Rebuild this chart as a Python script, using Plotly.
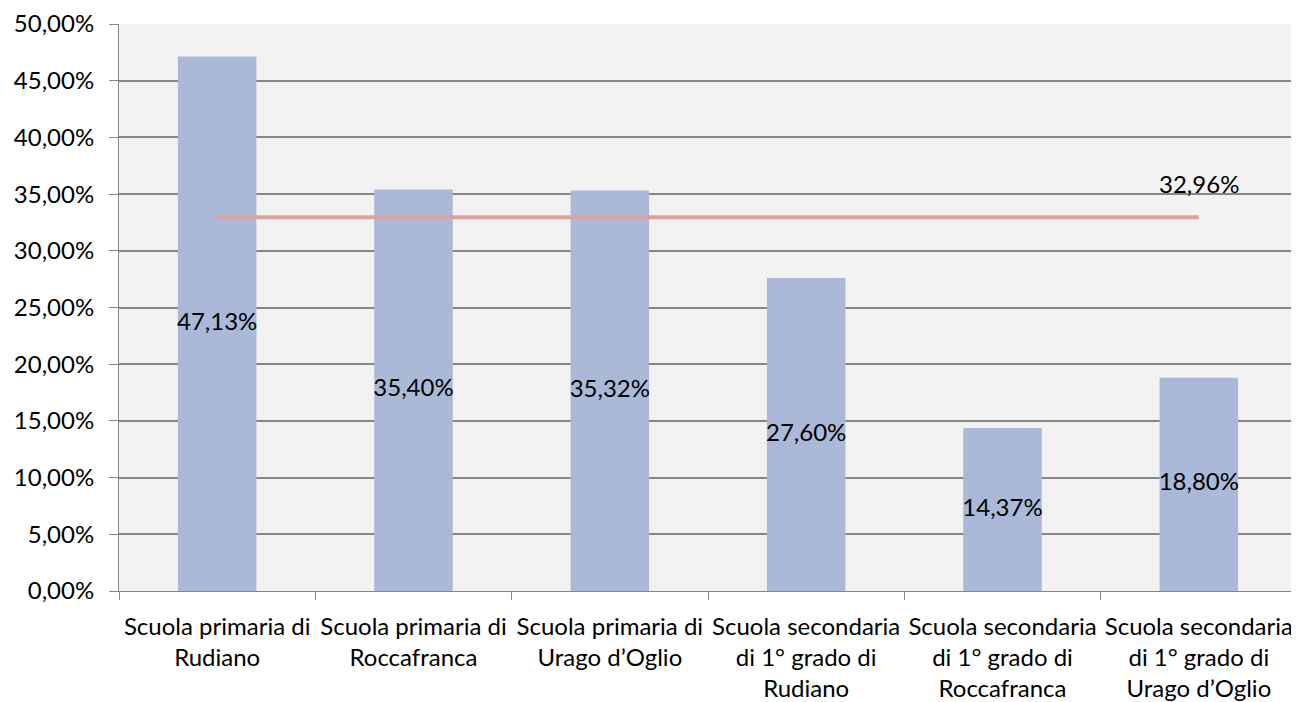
import plotly.graph_objects as go

schools = [
    "Scuola primaria di<br>Rudiano",
    "Scuola primaria di<br>Roccafranca",
    "Scuola primaria di<br>Urago d\u2019Oglio",
    "Scuola secondaria<br>di 1\u00b0 grado di<br>Rudiano",
    "Scuola secondaria<br>di 1\u00b0 grado di<br>Roccafranca",
    "Scuola secondaria<br>di 1\u00b0 grado di<br>Urago d\u2019Oglio",
]
values = [0.4713, 0.3540, 0.3532, 0.2760, 0.1437, 0.1880]
average = 0.3296

font_family = "Lato, 'Open Sans', sans-serif"
bar_color = "#aab9d7"
line_color = "#d9a3a3"
axis_gray = "#868686"
fsize = 24

fig = go.Figure()

fig.add_trace(go.Bar(
    x=schools, y=values,
    marker=dict(color=bar_color, line=dict(width=0)),
    width=0.4,
    hoverinfo="skip",
))

# average line across the bar centres
fig.add_trace(go.Scatter(
    x=schools, y=[average] * len(schools),
    mode="lines",
    line=dict(color=line_color, width=4),
    hoverinfo="skip",
))

# value labels sit at half the bar height
fig.add_trace(go.Scatter(
    x=schools, y=[v / 2 for v in values],
    mode="text",
    text=[f"{v * 100:.2f}%".replace(".", ",") for v in values],
    textfont=dict(family=font_family, size=fsize, color="#000000"),
    hoverinfo="skip",
))

fig.add_annotation(
    x=schools[-1], y=average,
    text=f"{average * 100:.2f}%".replace(".", ","),
    showarrow=False, yshift=34,
    font=dict(family=font_family, size=fsize, color="#000000"),
)

# the page body has an 8px margin, so the figure is offset by it
fig.update_layout(
    width=1291, height=694,
    margin=dict(l=111, r=2, t=16, b=111),
    paper_bgcolor="white",
    plot_bgcolor="#f2f2f2",
    showlegend=False,
    separators=",.",
    font=dict(family=font_family, size=fsize, color="#000000"),
)

fig.update_xaxes(
    type="category",
    tickson="boundaries",
    tickangle=0,
    ticks="outside", ticklen=8, tickcolor=axis_gray,
    showgrid=False,
    showline=True, linecolor=axis_gray, linewidth=1,
    automargin=False,
    ticklabelstandoff=14,
    tickfont=dict(family=font_family, size=fsize, color="#000000"),
)

fig.update_yaxes(
    range=[0, 0.5],
    dtick=0.05,
    tickformat=".2%",
    ticks="outside", ticklen=9, tickcolor=axis_gray,
    showgrid=True, gridcolor=axis_gray, gridwidth=1.5,
    showline=True, linecolor=axis_gray, linewidth=1,
    zeroline=False,
    automargin=False,
    ticklabelstandoff=10,
    tickfont=dict(family=font_family, size=fsize, color="#000000"),
)

fig.write_html("out.html")
